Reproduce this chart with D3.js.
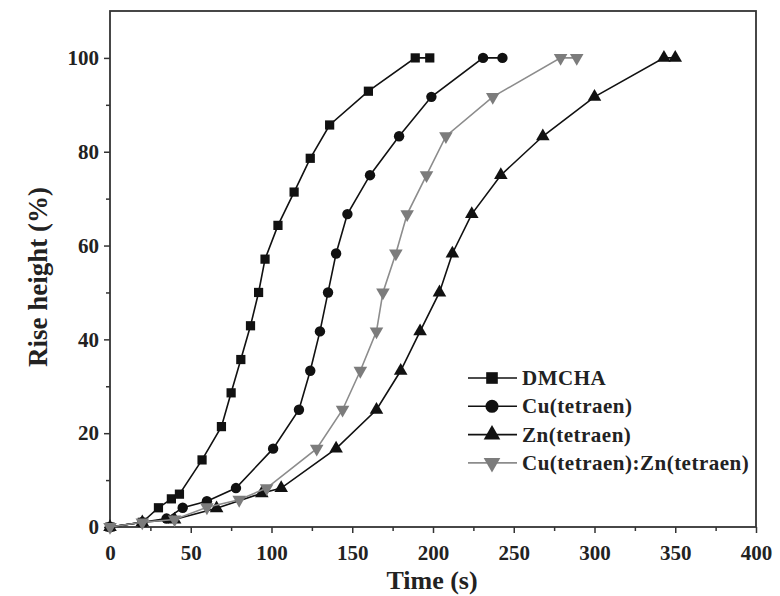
<!DOCTYPE html>
<html>
<head>
<meta charset="utf-8">
<script src="https://cdn.jsdelivr.net/npm/d3@7"></script>
<style>
  body { margin: 0; background: #fff; }
  svg text { font-family: "Liberation Serif", "DejaVu Serif", serif; font-weight: bold; fill: #222; }
</style>
</head>
<body>
<svg id="canvas" width="780" height="596"></svg>
<script>
// data
var series_names = ['DMCHA', 'Cu(tetraen)', 'Zn(tetraen)', 'Cu(tetraen):Zn(tetraen)'];
var dmcha_t = [0, 20, 30, 38, 43, 57, 69, 75, 81, 87, 92, 96, 104, 114, 124, 136, 160, 189, 198];
var dmcha_h = [0, 1, 4.1, 6, 7, 14.3, 21.4, 28.6, 35.7, 42.9, 50, 57.1, 64.3, 71.4, 78.6, 85.7, 92.9, 100, 100];
var cu_t = [0, 20, 35, 45, 60, 78, 101, 117, 124, 130, 135, 140, 147, 161, 179, 199, 231, 243];
var cu_h = [0, 1, 1.8, 4.1, 5.5, 8.3, 16.7, 25, 33.3, 41.7, 50, 58.3, 66.7, 75, 83.3, 91.7, 100, 100];
var zn_t = [0, 20, 40, 66, 94, 106, 140, 165, 180, 192, 204, 212, 224, 242, 268, 300, 343, 350];
var zn_h = [0, 1, 1.6, 4, 7.2, 8.3, 16.7, 25, 33.3, 41.7, 50, 58.3, 66.7, 75, 83.3, 91.7, 100, 100];
var mix_t = [0, 20, 40, 60, 80, 97, 128, 144, 155, 165, 169, 177, 184, 196, 208, 237, 279, 289];
var mix_h = [0, 1, 1.6, 4.2, 5.8, 8.3, 16.7, 25, 33.3, 41.7, 50, 58.3, 66.7, 75, 83.3, 91.7, 100, 100];
var x_ticks = [0, 50, 100, 150, 200, 250, 300, 350, 400];
var y_ticks = [0, 20, 40, 60, 80, 100];

var series = [
  { name: series_names[0], t: dmcha_t, h: dmcha_h, symbol: d3.symbolSquare, rot: 0, color: '#111', line: '#111' },
  { name: series_names[1], t: cu_t, h: cu_h, symbol: d3.symbolCircle, rot: 0, color: '#111', line: '#111' },
  { name: series_names[2], t: zn_t, h: zn_h, symbol: d3.symbolTriangle, rot: 0, color: '#111', line: '#111' },
  { name: series_names[3], t: mix_t, h: mix_h, symbol: d3.symbolTriangle, rot: 180, color: '#7c7c7c', line: '#8c8c8c' }
];

var svg = d3.select('#canvas');
var plot = { left: 110, right: 756, top: 11, bottom: 527 };

var x = d3.scaleLinear().domain([0, 400]).range([plot.left, plot.right]);
var y = d3.scaleLinear().domain([0, 110]).range([plot.bottom, plot.top]);

// frame
svg.append('rect')
  .attr('x', plot.left).attr('y', plot.top).attr('width', plot.right - plot.left).attr('height', plot.bottom - plot.top)
  .style('fill', 'none').style('stroke', '#333').style('stroke-width', 1.8);

// x axis
var xAxis = svg.append('g').attr('transform', 'translate(0,' + plot.bottom + ')')
  .call(d3.axisBottom(x).tickValues(x_ticks).tickSize(6).tickPadding(12));
var xMinor = svg.append('g').attr('transform', 'translate(0,' + plot.bottom + ')')
  .call(d3.axisBottom(x).tickValues(d3.range(25, 400, 50)).tickSize(4).tickFormat(''));

// y axis
var yAxis = svg.append('g').attr('transform', 'translate(' + plot.left + ',0)')
  .call(d3.axisLeft(y).tickValues(y_ticks).tickSize(6).tickPadding(5));
var yMinor = svg.append('g').attr('transform', 'translate(' + plot.left + ',0)')
  .call(d3.axisLeft(y).tickValues(d3.range(10, 110, 20)).tickSize(4).tickFormat(''));

[xAxis, xMinor, yAxis, yMinor].forEach(function(g){
  g.select('.domain').remove();
  g.selectAll('line').style('stroke', '#333').style('stroke-width', 1.5);
  g.selectAll('text').style('font-size', '21px').style('font-family', '"Liberation Serif", serif').style('font-weight', 'bold').style('fill', '#222');
});

// axis titles
svg.append('text').attr('x', 432).attr('y', 589).attr('text-anchor', 'middle')
  .style('font-size', '26px').text('Time (s)');
svg.append('text').attr('transform', 'translate(47,' + 277 + ') rotate(-90)')
  .attr('text-anchor', 'middle').style('font-size', '27px').text('Rise height (%)');

// lines + markers
var line = d3.line().x(function(d){ return x(d[0]); }).y(function(d){ return y(d[1]); });

series.forEach(function(s){
  var pts = s.t.map(function(t, i){ return [t, s.h[i]]; });
  svg.append('path').datum(pts).attr('d', line)
    .style('fill', 'none').style('stroke', s.line).style('stroke-width', 1.6);
  svg.append('g').selectAll('path').data(pts).enter().append('path')
    .attr('d', d3.symbol().type(s.symbol).size(s.symbol === d3.symbolTriangle ? 80 : 85))
    .attr('transform', function(d){ return 'translate(' + x(d[0]) + ',' + y(d[1]) + ') rotate(' + s.rot + ')'; })
    .style('fill', s.color);
});

// legend
var leg = svg.append('g').attr('transform', 'translate(468,378)');
series.forEach(function(s, i){
  var g = leg.append('g').attr('transform', 'translate(0,' + (i * 28.3) + ')');
  g.append('line').attr('x1', 0).attr('x2', 49).attr('y1', 0).attr('y2', 0)
    .style('stroke', s.line).style('stroke-width', 1.6);
  g.append('path').attr('d', d3.symbol().type(s.symbol).size(s.symbol === d3.symbolTriangle ? 120 : 135))
    .attr('transform', 'translate(24,0) rotate(' + s.rot + ')').style('fill', s.color);
  g.append('text').attr('x', 54).attr('y', 7).style('font-size', '21px').style('letter-spacing', '0.5px').text(s.name);
});
</script>
</body>
</html>
